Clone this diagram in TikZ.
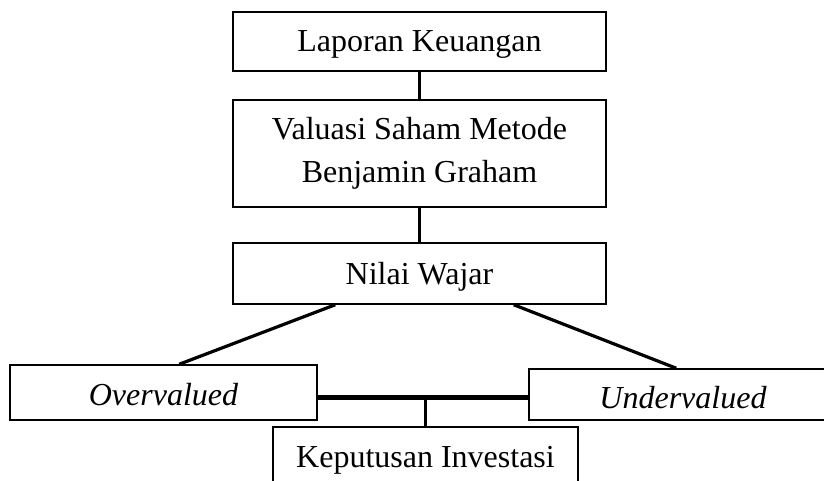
\documentclass[tikz,border=0pt]{standalone}
\usepackage{fontspec}
\setmainfont{Liberation Serif}
\usetikzlibrary{calc}
\begin{document}
\begin{tikzpicture}[x=1pt,y=-1pt,
  box/.style={draw, line width=1.5pt, inner sep=0pt, font=\fontsize{32}{43}\selectfont, text height=21pt, text depth=0pt},
  conn/.style={line width=3.2pt},
  hconn/.style={line width=4.2pt}]
\useasboundingbox (0,0) rectangle (824,481);
\clip (0,0) rectangle (824,481);
\node[box, minimum width=373pt, minimum height=59pt] (lap) at (419.5,41.5) {Laporan Keuangan};
\node[box, minimum width=373pt, minimum height=107pt, align=center, text height=, text depth=] (val) at (419.5,153.5) {Valuasi Saham Metode\\Benjamin Graham};
\node[box, minimum width=373pt, minimum height=61pt] (nil) at (419.5,273.5) {Nilai Wajar};
\node[box, minimum width=307pt, minimum height=55pt, text height=25pt] (ov) at (163.5,392.5) {\itshape Overvalued};
\node[box, minimum width=308pt, minimum height=51pt, text height=27pt] (un) at (683,394.5) {\itshape Undervalued};
\node[box, minimum width=305pt, minimum height=59pt] (kep) at (425.5,456.5) {Keputusan Investasi};
\draw[conn] (lap.south) -- (val.north);
\draw[conn] (val.south) -- (nil.north);
\draw[conn] ([xshift=103pt]nil.south west) -- ([xshift=170pt]ov.north west);
\draw[conn] ([xshift=-93pt]nil.south east) -- ([xshift=148pt]un.north west);
\coordinate (hl) at ([yshift=-5pt]ov.east);
\coordinate (hr) at (un.west |- hl);
\draw[hconn] (hl) -- (hr);
\coordinate (hm) at (kep.north |- hl);
\draw[conn] (hm) -- (kep.north);
\end{tikzpicture}
\end{document}
